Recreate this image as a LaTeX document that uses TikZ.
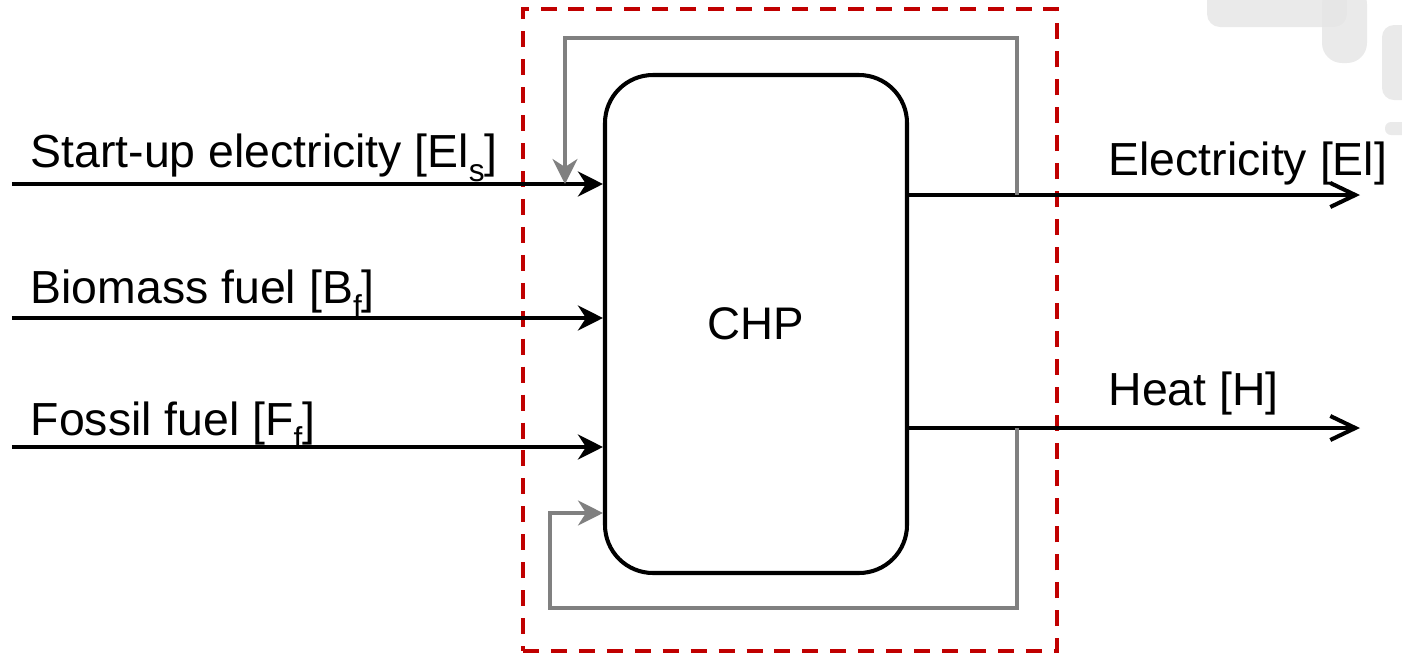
\documentclass[tikz,border=0pt]{standalone}
\usepackage{fontspec}
\setmainfont{Liberation Sans}
\usepackage{xcolor}
\usetikzlibrary{arrows.meta,positioning,backgrounds}
\definecolor{chpred}{RGB}{192,0,0}
\definecolor{chpgray}{RGB}{128,128,128}
\newcommand{\flowsub}[1]{\raisebox{-4pt}{\fontsize{9}{10}\selectfont #1}}

\begin{document}
\begin{tikzpicture}[
  chpbox/.style={draw, line width=1.15pt, rounded corners=0.48cm,
    minimum width=3.02cm, minimum height=4.98cm, font=\fontsize{13}{15.6}\selectfont},
  sysframe/.style={draw=chpred, line width=1.1pt, dash pattern=on 4.55pt off 3.4pt,
    minimum width=5.34cm, minimum height=6.42cm},
  flowtext/.style={anchor=base west, inner sep=0pt, font=\fontsize{13.2}{15.6}\selectfont},
  inflow/.style={line width=1.15pt, -{Stealth[length=2.5mm, width=2.5mm, inset=0.8mm]}},
  outflow/.style={line width=1.15pt, -{Straight Barb[length=2.5mm, width=2.4mm]}},
  loopflow/.style={draw=chpgray, line width=1pt,
    -{Stealth[length=2.5mm, width=2.5mm, inset=0.8mm]}},
  blob/.style={fill=black!10, opacity=0.8},
  ]
  \useasboundingbox (0,0) rectangle (14.02,6.54);

  % Fond
  \fill[blob, rounded corners=0.13cm] (12.07,6.27) rectangle (13.47,6.70);
  \fill[blob, rounded corners=0.2cm] (13.22,5.91) rectangle (13.67,6.70);
  \fill[blob, rounded corners=0.12cm] (13.82,5.54) rectangle (14.20,6.29);
  \fill[blob, rounded corners=0.06cm] (13.85,5.19) rectangle (14.20,5.32);

  % Systeme
  \node[chpbox] (chp) at (7.56,3.30) {CHP};
  \begin{scope}[on background layer]
    \node[sysframe] (sys) at (7.90,3.24) {};
  \end{scope}

  % Entrees
  \coordinate (startup) at (0.12,4.70);
  \coordinate (biomass) at (0.12,3.36);
  \coordinate (fossil)  at (0.12,2.07);
  \node[flowtext] (startuplbl) at (0.30,4.87) {Start-up electricity [El\flowsub{s}]};
  \node[flowtext] (biomasslbl) at (0.30,3.51) {Biomass fuel [B\flowsub{f}]};
  \node[flowtext] (fossillbl)  at (0.30,2.19) {Fossil fuel [F\flowsub{f}]};
  \draw[inflow] (startup) -- (chp.west |- startup);
  \draw[inflow] (biomass) -- (chp.west |- biomass);
  \draw[inflow] (fossil)  -- (chp.west |- fossil);

  % Sorties
  \coordinate (elout)   at (13.60,4.59);
  \coordinate (heatout) at (13.60,2.26);
  \node[flowtext] (eloutlbl)   at (11.08,4.79) {Electricity [El]};
  \node[flowtext] (heatoutlbl) at (11.08,2.49) {Heat [H]};
  \draw[outflow] (chp.east |- elout)   -- (elout);
  \draw[outflow] (chp.east |- heatout) -- (heatout);

  % Recirculation
  \coordinate (elsplit)   at (10.17,4.59);
  \coordinate (heatsplit) at (10.17,2.26);
  \coordinate (startupin) at (5.65,4.70);
  \coordinate (recirc)    at (5.50,1.41);
  \draw[loopflow] (elsplit) -- ++(0,1.57) -| (startupin);
  \draw[loopflow] (heatsplit) -- ++(0,-1.80) -| (recirc) -- (chp.west |- recirc);
\end{tikzpicture}
\end{document}
